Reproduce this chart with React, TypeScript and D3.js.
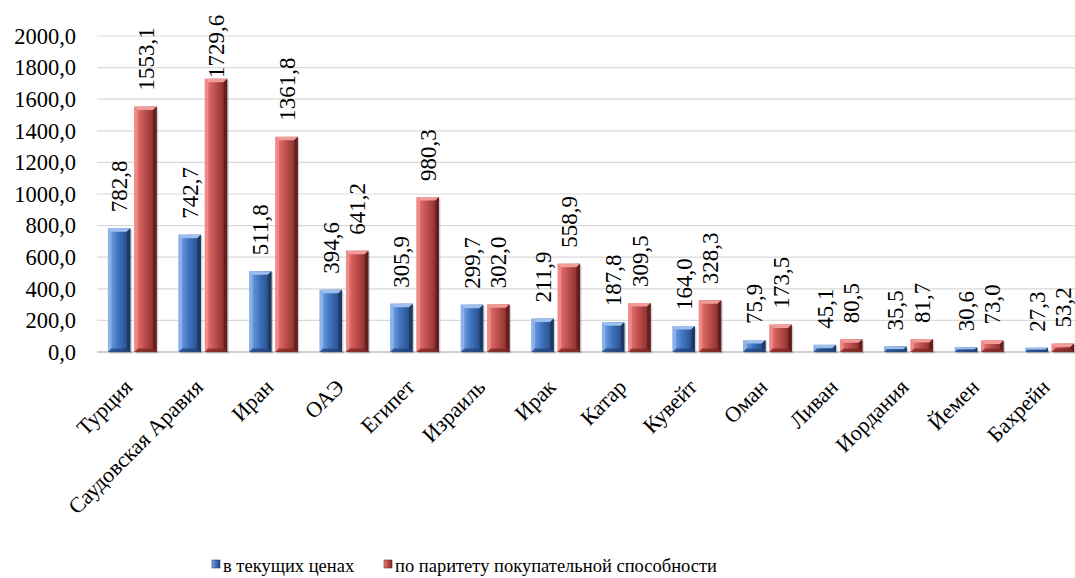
import React from "react";
import * as d3 from "d3";

const categories = ["Турция", "Саудовская Аравия", "Иран", "ОАЭ", "Египет", "Израиль", "Ирак", "Катар", "Кувейт", "Оман", "Ливан", "Иордания", "Йемен", "Бахрейн"];
const currentPrices = [782.8, 742.7, 511.8, 394.6, 305.9, 299.7, 211.9, 187.8, 164.0, 75.9, 45.1, 35.5, 30.6, 27.3];
const pppValues = [1553.1, 1729.6, 1361.8, 641.2, 980.3, 302.0, 558.9, 309.5, 328.3, 173.5, 80.5, 81.7, 73.0, 53.2];
const seriesNames = ["в текущих ценах", "по паритету покупательной способности"];
const yTicks = [0, 200, 400, 600, 800, 1000, 1200, 1400, 1600, 1800, 2000];

const W = 1075, H = 578;
const FONT = "Liberation Serif";

const fmt = (v: number) => v.toFixed(1).replace(".", ",");

const palettes = [
  { light: "#7ea9e6", mid: "#3f74bf", dark: "#23447a", top: "#9dbfee", edgeL: "#8fb6ec", edgeR: "#1b355e" },
  { light: "#ee7a78", mid: "#c0504d", dark: "#7a2826", top: "#f29c9a", edgeL: "#f08e8c", edgeR: "#5e1c1b" },
];

function Bar({ x, y, w, h, s }: { x: number; y: number; w: number; h: number; s: number }) {
  const p = palettes[s];
  const b = Math.min(3.5, h / 2, w / 4);
  return (
    <g>
      <rect x={x + 1.5} y={y + 1.5} width={w} height={h} fill="rgba(0,0,0,0.18)" />
      <rect x={x} y={y} width={w} height={h} fill={`url(#grad${s})`} />
      <polygon points={`${x},${y} ${x + w},${y} ${x + w - b},${y + b} ${x + b},${y + b}`} fill={p.top} />
      <polygon points={`${x},${y} ${x + b},${y + b} ${x + b},${y + h - b} ${x},${y + h}`} fill={p.edgeL} opacity={0.85} />
      <polygon points={`${x + w},${y} ${x + w - b},${y + b} ${x + w - b},${y + h - b} ${x + w},${y + h}`} fill={p.edgeR} opacity={0.85} />
      <polygon points={`${x},${y + h} ${x + b},${y + h - b} ${x + w - b},${y + h - b} ${x + w},${y + h}`} fill={p.dark} opacity={0.8} />
    </g>
  );
}

export default function App() {
  const left = 97, right = 1085, top = 36, bottom = 352;
  const x0 = d3.scaleBand<string>().domain(categories).range([left, right]).paddingInner(0.31).paddingOuter(0.155);
  const x1 = d3.scaleBand<number>().domain([0, 1]).range([0, x0.bandwidth()]).paddingInner(0.15);
  const y = d3.scaleLinear().domain([0, 2000]).range([bottom, top]);
  const series = [currentPrices, pppValues];
  const step = x0.step();

  return (
    <svg width={W} height={H} style={{ position: "absolute", left: 0, top: 0, background: "#fff" }}>
      <defs>
        {palettes.map((p, i) => (
          <linearGradient key={i} id={`grad${i}`} x1="0" x2="1" y1="0" y2="0">
            <stop offset="0" stopColor={p.light} />
            <stop offset="0.45" stopColor={p.mid} />
            <stop offset="1" stopColor={p.dark} />
          </linearGradient>
        ))}
      </defs>

      {yTicks.map((t) => (
        <g key={t}>
          <line x1={left} x2={W} y1={y(t)} y2={y(t)} stroke={t === 0 ? "#bfbfbf" : "#d9d9d9"} strokeWidth={t === 0 ? 1.5 : 1.2} />
          <text x={76} y={y(t)} textAnchor="end" dy="0.35em" fontFamily={FONT} fontSize={22.5} fill="#000">{fmt(t)}</text>
        </g>
      ))}

      {categories.map((c, i) => (
        <g key={c}>
          {series.map((vals, s) => {
            const v = vals[i];
            const bx = (x0(c) as number) + (x1(s) as number);
            const bw = x1.bandwidth();
            const by = y(v);
            const bh = bottom - by;
            const lx = bx + bw / 2;
            const labelLen = fmt(v).length * 10.5;
            let ly = by - 16;
            if (ly - labelLen < 15) ly = 15 + labelLen;
            return (
              <g key={s}>
                <Bar x={bx} y={by} w={bw} h={bh} s={s} />
                <text transform={`translate(${lx},${ly}) rotate(-90)`} textAnchor="start" dy="0.35em" fontFamily={FONT} fontSize={23} fill="#000">{fmt(v)}</text>
              </g>
            );
          })}
          <text transform={`translate(${(x0(c) as number) - step * 0.155 + step / 2 - 4},${383}) rotate(-45)`} textAnchor="end" dy="0.35em" fontFamily={FONT} fontSize={22} fill="#000">{c}</text>
        </g>
      ))}

      {seriesNames.map((n, s) => {
        const lx = s === 0 ? 212 : 384;
        return (
          <g key={n}>
            <rect x={lx} y={560} width={8} height={8} fill={`url(#grad${s})`} />
            <rect x={lx} y={560} width={8} height={8} fill="none" stroke={palettes[s].dark} strokeWidth={0.6} />
            <text x={lx + 11} y={572} fontFamily={FONT} fontSize={18.5} fill="#000">{n}</text>
          </g>
        );
      })}
    </svg>
  );
}
